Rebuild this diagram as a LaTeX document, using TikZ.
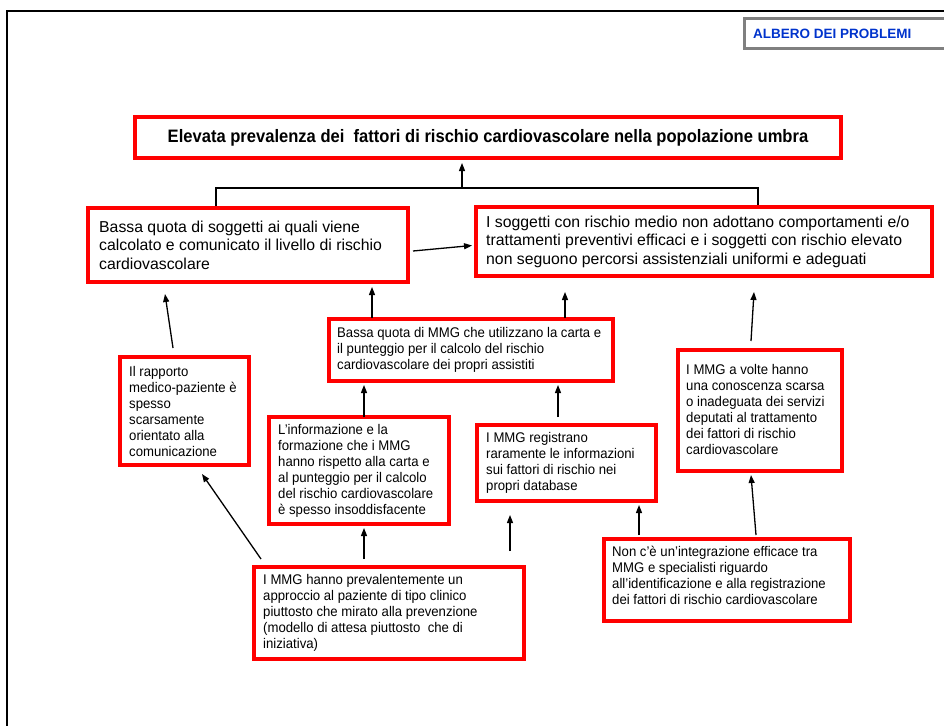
\documentclass[tikz,border=0pt]{standalone}
\usepackage{fontspec}
\setmainfont{Liberation Sans}
\newfontfamily\bodyfont{Liberation Sans}
\newfontfamily\smallfont[FakeStretch=0.94]{Liberation Sans}
\newfontfamily\titlefont[FakeStretch=0.92]{Liberation Sans}
\usetikzlibrary{arrows.meta,calc}
\definecolor{boxred}{RGB}{255,0,0}
\definecolor{hdrblue}{RGB}{0,51,204}
\definecolor{hdrgray}{RGB}{128,128,128}
\begin{document}
\begin{tikzpicture}[x=1pt,y=-1pt,
  redbox/.style={draw=boxred, line width=4pt, anchor=north west, inner sep=0pt},
  bigtext/.style={anchor=west, align=left, inner sep=0pt, font=\bodyfont\fontsize{15.8}{18.5}\selectfont},
  smalltext/.style={anchor=west, align=left, inner sep=0pt, font=\smallfont\fontsize{14}{16}\selectfont},
  arr/.style={line width=1.3pt, -{Triangle[length=8pt,width=6pt]}},
  bracket/.style={line width=2.2pt}
]
\useasboundingbox (0,0) rectangle (944,725);
% page frame
\draw[line width=2pt] (7,730) -- (7,11) -- (950,11);

% header
\node[draw=hdrgray, line width=3pt, anchor=north west, minimum width=220pt, minimum height=30pt, inner sep=0pt] (hdr) at (743,17) {};
\node[anchor=west, inner sep=0pt, text=hdrblue, font=\bfseries\fontsize{13.5}{16}\selectfont] (hdrt) at ($(hdr.west)+(10,0)$) {ALBERO DEI PROBLEMI};

% top box
\node[redbox, minimum width=706pt, minimum height=41pt] (top) at (133,115) {};
\node[inner sep=0pt, font=\titlefont\bfseries\fontsize{18}{20}\selectfont] (topt) at (top.center) {Elevata prevalenza dei\ \ fattori di rischio cardiovascolare nella popolazione umbra};

% level 1
\node[redbox, minimum width=320pt, minimum height=74pt] (b1) at (86,206) {};
\node[bigtext] (b1t) at ($(b1.west)+(13,0)$) {Bassa quota di soggetti ai quali viene\\calcolato e comunicato il livello di rischio\\cardiovascolare};

\node[redbox, minimum width=456pt, minimum height=69pt] (b2) at (474,205) {};
\node[bigtext] (b2t) at ($(b2.west)+(12,0)$) {I soggetti con rischio medio non adottano comportamenti e/o\\trattamenti preventivi efficaci e i soggetti con rischio elevato\\non seguono percorsi assistenziali uniformi e adeguati};

% level 2
\node[redbox, minimum width=284pt, minimum height=62pt] (b3) at (327,317) {};
\node[smalltext] (b3t) at ($(b3.west)+(10,0)$) {Bassa quota di MMG che utilizzano la carta e\\il punteggio per il calcolo del rischio\\cardiovascolare dei propri assistiti};

\node[redbox, minimum width=129pt, minimum height=108pt] (b4) at (118,355) {};
\node[smalltext] (b4t) at ($(b4.west)+(11,0)$) {Il rapporto\\medico-paziente è\\spesso\\scarsamente\\orientato alla\\comunicazione};

\node[redbox, minimum width=164pt, minimum height=121pt] (b7) at (676,348) {};
\node[smalltext] (b7t) at ($(b7.west)+(10,-1)$) {I MMG a volte hanno\\una conoscenza scarsa\\o inadeguata dei servizi\\deputati al trattamento\\dei fattori di rischio\\cardiovascolare};

% level 3
\node[redbox, minimum width=180pt, minimum height=107pt] (b5) at (267,415) {};
\node[smalltext] (b5t) at ($(b5.west)+(11,0)$) {L’informazione e la\\formazione che i MMG\\hanno rispetto alla carta e\\al punteggio per il calcolo\\del rischio cardiovascolare\\è spesso insoddisfacente};

\node[redbox, minimum width=179pt, minimum height=76pt] (b6) at (475,423) {};
\node[smalltext] (b6t) at ($(b6.west)+(11,0)$) {I MMG registrano\\raramente le informazioni\\sui fattori di rischio nei\\propri database};

% level 4
\node[redbox, minimum width=270pt, minimum height=92pt] (b9) at (252,565) {};
\node[smalltext] (b9t) at ($(b9.west)+(11,0)$) {I MMG hanno prevalentemente un\\approccio al paziente di tipo clinico\\piuttosto che mirato alla prevenzione\\(modello di attesa piuttosto\ \ che di\\iniziativa)};

\node[redbox, minimum width=246pt, minimum height=82pt] (b8) at (602,537) {};
\node[smalltext] (b8t) at ($(b8.west)+(10,-5)$) {Non c’è un’integrazione efficace tra\\MMG e specialisti riguardo\\all’identificazione e alla registrazione\\dei fattori di rischio cardiovascolare};

% connectors
\coordinate (jc) at ($(top.south west)+(329,28)$);
\draw[bracket] ($(b1.north west)+(130,0)$) |- (jc) -| ($(b2.north west)+(284,0)$);
\draw[arr] (jc) -- ($(top.south west)+(329,3)$);

\draw[arr] ($(b1.east)+(3,6)$) -- ($(b2.west)+(-2,4)$);
\draw[arr] ($(b4.north)+(-11.5,-7)$) -- ($(b1.south west)+(79,10)$);
\draw[arr] ($(b3.north west)+(45,1)$) -- ($(b1.south west)+(286,3)$);
\draw[arr] ($(b3.north west)+(238,1)$) -- ($(b2.south west)+(91,14)$);
\draw[arr] ($(b5.north west)+(97,2)$) -- ($(b3.south west)+(37,2)$);
\draw[arr] ($(b6.north west)+(83,-6)$) -- ($(b3.south west)+(231,2)$);
\draw[arr] ($(b7.north west)+(75,-7)$) -- ($(b2.south west)+(280,14)$);
\draw[arr] ($(b8.north west)+(37,-2)$) -- ($(b6.south west)+(164,2)$);
\draw[arr] ($(b8.north west)+(154,-2)$) -- ($(b7.south west)+(75,2)$);
\coordinate (fa) at ($(b9.north east)+(-16,-14)$);
\coordinate (fb) at ($(b9.north east)+(-16,-50)$);
\draw[arr] (fa) -- (fb);
\draw[arr] ($(b9.north west)+(112,-6)$) -- ($(b5.south west)+(97,2)$);
\draw[arr] ($(b9.north west)+(9,-6)$) -- ($(b4.south west)+(84,7)$);
\end{tikzpicture}
\end{document}
